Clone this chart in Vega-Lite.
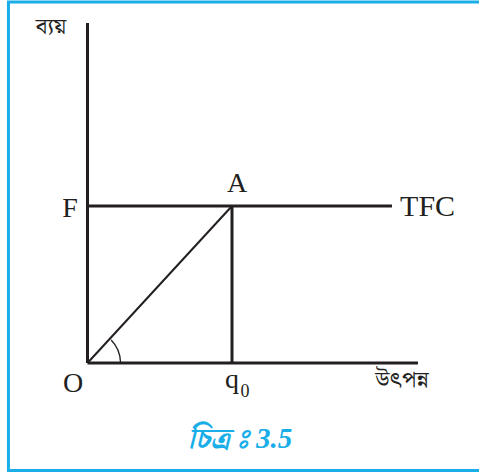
{
  "$schema": "https://vega.github.io/schema/vega-lite/v6.json",
  "width": 479,
  "height": 473,
  "autosize": "none",
  "padding": 0,
  "background": "white",
  "config": {"view": {"stroke": null}},
  "datasets": {
    "frame": [{"x1": -0.547, "y1": 2.299, "x2": 2.785, "y2": -0.685}],
    "thick": [
      {"x1": 0, "y1": 0, "x2": 0, "y2": 2.166},
      {"x1": 0, "y1": 0, "x2": 2.287, "y2": 0},
      {"x1": 0, "y1": 1, "x2": 2.107, "y2": 1},
      {"x1": 1, "y1": 1, "x2": 1, "y2": 0}
    ],
    "thin": [{"x1": 0, "y1": 0, "x2": 1, "y2": 1}],
    "origin": [{"x": 0, "y": 0}],
    "latin": [
      {"x": -0.121, "y": 0.930, "t": "F"},
      {"x": 1.035, "y": 1.089, "t": "A"},
      {"x": -0.100, "y": -0.185, "t": "O"},
      {"x": 1.0, "y": -0.159, "t": "q"}
    ],
    "tfc": [{"x": 2.163, "y": 0.936, "t": "TFC"}],
    "sub": [{"x": 1.09, "y": -0.217, "t": "0"}],
    "bengali": [
      {"x": -0.253, "y": 2.140, "t": "ব্যয়"},
      {"x": 2.176, "y": -0.108, "t": "উৎপন্ন"}
    ],
    "caption": [{"x": 1.055, "y": -0.484, "t": "চিত্র\u00a0ঃ 3.5"}]
  },
  "encoding": {
    "x": {"field": "x", "type": "quantitative", "axis": null, "scale": {"domain": [0, 1], "range": [87.5, 232], "zero": false, "nice": false}},
    "y": {"field": "y", "type": "quantitative", "axis": null, "scale": {"domain": [0, 1], "range": [363, 206], "zero": false, "nice": false}}
  },
  "layer": [
    {
      "data": {"name": "frame"},
      "mark": {"type": "rect", "fill": null, "stroke": "#19aee8", "strokeWidth": 3, "clip": false},
      "encoding": {
        "x": {"field": "x1", "type": "quantitative"},
        "x2": {"field": "x2"},
        "y": {"field": "y1", "type": "quantitative"},
        "y2": {"field": "y2"}
      }
    },
    {
      "data": {"name": "thick"},
      "mark": {"type": "rule", "color": "#231f20", "strokeWidth": 3, "strokeCap": "butt"},
      "encoding": {
        "x": {"field": "x1", "type": "quantitative"},
        "x2": {"field": "x2"},
        "y": {"field": "y1", "type": "quantitative"},
        "y2": {"field": "y2"}
      }
    },
    {
      "data": {"name": "thin"},
      "mark": {"type": "rule", "color": "#231f20", "strokeWidth": 2},
      "encoding": {
        "x": {"field": "x1", "type": "quantitative"},
        "x2": {"field": "x2"},
        "y": {"field": "y1", "type": "quantitative"},
        "y2": {"field": "y2"}
      }
    },
    {
      "data": {"name": "origin"},
      "mark": {"type": "arc", "theta": 0.8, "theta2": 1.54, "radius": 33, "radius2": 33, "fill": null, "filled": false, "stroke": "#231f20", "strokeWidth": 1.3}
    },
    {
      "data": {"name": "latin"},
      "mark": {"type": "text", "font": "Liberation Serif", "fontSize": 28, "baseline": "alphabetic", "align": "center", "color": "#231f20"},
      "encoding": {"text": {"field": "t"}}
    },
    {
      "data": {"name": "tfc"},
      "mark": {"type": "text", "font": "Liberation Serif", "fontSize": 30, "baseline": "alphabetic", "align": "left", "color": "#231f20"},
      "encoding": {"text": {"field": "t"}}
    },
    {
      "data": {"name": "sub"},
      "mark": {"type": "text", "font": "Liberation Serif", "fontSize": 18, "baseline": "alphabetic", "align": "center", "color": "#231f20"},
      "encoding": {"text": {"field": "t"}}
    },
    {
      "data": {"name": "bengali"},
      "mark": {"type": "text", "font": "Noto Serif Bengali, Noto Sans Bengali, Lohit Bengali, serif", "fontSize": 23, "baseline": "middle", "align": "center", "color": "#231f20"},
      "encoding": {"text": {"field": "t"}}
    },
    {
      "data": {"name": "caption"},
      "mark": {"type": "text", "font": "Liberation Serif, Noto Serif Bengali, Noto Sans Bengali, serif", "fontSize": 29, "fontStyle": "italic", "fontWeight": "bold", "baseline": "middle", "align": "center", "color": "#19aee8"},
      "encoding": {"text": {"field": "t"}}
    }
  ]
}
